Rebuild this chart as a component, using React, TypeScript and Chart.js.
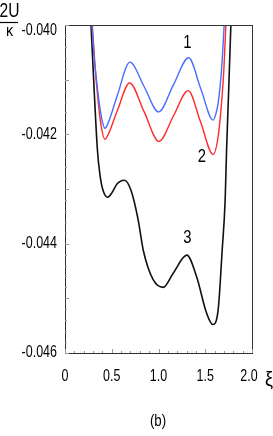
import React, { useEffect, useRef } from "react";
import { Chart, registerables } from "chart.js";

Chart.register(...registerables);

// Curve 1 (blue)
const xi1 = [0.278, 0.2885, 0.31, 0.345, 0.374, 0.4, 0.427, 0.46, 0.561, 0.694, 0.847, 1.001, 1.161, 1.322, 1.453, 1.584, 1.613, 1.638, 1.674, 1.702, 1.709];
const u1 = [-0.03973, -0.04, -0.04055, -0.04113, -0.04152, -0.04177, -0.04189, -0.0418, -0.04128, -0.04068, -0.04113, -0.04159, -0.04109, -0.0406, -0.04117, -0.04174, -0.04163, -0.04143, -0.04082, -0.04, -0.03973];

// Curve 2 (red)
const xi2 = [0.283, 0.292, 0.32, 0.353, 0.385, 0.427, 0.46, 0.559, 0.691, 0.847, 1.004, 1.161, 1.317, 1.451, 1.584, 1.638, 1.674, 1.699, 1.72, 1.727];
const u2 = [-0.03973, -0.04, -0.04073, -0.04137, -0.04183, -0.04209, -0.04201, -0.04157, -0.04106, -0.04159, -0.04213, -0.04166, -0.0412, -0.04178, -0.04237, -0.04204, -0.04143, -0.04082, -0.04, -0.03973];

// Curve 3 (black)
const xi3 = [0.267, 0.278, 0.31, 0.347, 0.374, 0.406, 0.456, 0.502, 0.556, 0.634, 0.705, 0.783, 0.837, 0.943, 1.05, 1.157, 1.303, 1.407, 1.514, 1.581, 1.638, 1.681, 1.713, 1.728, 1.752, 1.774, 1.781];
const u3 = [-0.03973, -0.04, -0.04113, -0.04229, -0.04274, -0.04302, -0.04315, -0.04307, -0.04291, -0.04284, -0.04302, -0.04357, -0.04412, -0.04466, -0.0448, -0.04454, -0.04421, -0.0446, -0.04527, -0.04548, -0.04521, -0.04412, -0.0432, -0.04229, -0.04113, -0.04, -0.03973];

const yTickValues = [-0.04, -0.042, -0.044, -0.046];
const yTickLabels = ["-0.040", "-0.042", "-0.044", "-0.046"];
const xTickValues = [0, 0.5, 1.0, 1.5, 2.0];
const xTickLabels = ["0", "0.5", "1.0", "1.5", "2.0"];

const curveLabels = ["1", "2", "3"];
const curveLabelXi = [1.308, 1.464, 1.308];
const curveLabelU = [-0.04033, -0.04241, -0.0439];

const FONT = '"Liberation Sans", Arial, sans-serif';

function narrowText(ctx: any, text: string, x: number, y: number, size: number, align: string, sx = 0.78) {
  ctx.save();
  ctx.font = size + "px " + FONT;
  ctx.textAlign = align;
  ctx.textBaseline = "middle";
  ctx.translate(x, y);
  ctx.scale(sx, 1);
  ctx.fillText(text, 0, 0);
  ctx.restore();
}

const decorPlugin = {
  id: "decor",
  afterDraw(chart: any) {
    const { ctx, chartArea } = chart;
    const xs = chart.scales.x;
    const ys = chart.scales.y;
    const { left, right, top, bottom } = chartArea;
    ctx.save();
    // frame
    ctx.strokeStyle = "#333";
    ctx.lineWidth = 1;
    ctx.strokeRect(Math.round(left) + 0.5, Math.round(top) + 0.5, Math.round(right - left), Math.round(bottom - top));
    // y ticks
    ctx.strokeStyle = "#999";
    for (let i = 0; i <= 30; i++) {
      const v = -0.046 + i * 0.0002;
      const y = Math.round(ys.getPixelForValue(v)) + 0.5;
      const len = i % 5 === 0 ? 4 : 2;
      ctx.beginPath();
      ctx.moveTo(left, y);
      ctx.lineTo(left + len, y);
      ctx.stroke();
    }
    // x ticks
    for (let i = 0; i <= 20; i++) {
      const x = Math.round(xs.getPixelForValue(i * 0.1)) + 0.5;
      const len = i % 5 === 0 ? 4 : 2;
      ctx.beginPath();
      ctx.moveTo(x, bottom);
      ctx.lineTo(x, bottom - len);
      ctx.stroke();
    }
    ctx.restore();

    ctx.save();
    ctx.fillStyle = "#000";
    // y labels
    yTickValues.forEach((v, i) => {
      let y = ys.getPixelForValue(v);
      if (y < top + 6) y = top + 6;
      narrowText(ctx, yTickLabels[i], left - 8, y, 16, "right");
    });
    // x labels
    xTickValues.forEach((v, i) => {
      let x = xs.getPixelForValue(v);
      if (i === xTickValues.length - 1) x -= 3;
      narrowText(ctx, xTickLabels[i], x, bottom + 24, 16, "center");
    });
    // xi axis label
    narrowText(ctx, "ξ", right + 17, bottom + 27, 20, "center", 0.9);
    // (b)
    narrowText(ctx, "(b)", (left + right) / 2 - 0.5, bottom + 68, 17, "center");
    // y title: 2U over kappa
    narrowText(ctx, "2U", 9.5, 11.5, 20, "center");
    ctx.strokeStyle = "#000";
    ctx.lineWidth = 1.2;
    ctx.beginPath();
    ctx.moveTo(0, 22.5);
    ctx.lineTo(18, 22.5);
    ctx.stroke();
    narrowText(ctx, "κ", 9.5, 32, 16, "center", 0.9);
    // curve labels
    curveLabels.forEach((t, i) => {
      narrowText(ctx, t, xs.getPixelForValue(curveLabelXi[i]), ys.getPixelForValue(curveLabelU[i]), 19, "center");
    });
    ctx.restore();
  },
};

export default function App() {
  const ref = useRef<HTMLCanvasElement | null>(null);
  useEffect(() => {
    if (!ref.current) return;
    const mk = (xi: number[], u: number[]) => xi.map((x, i) => ({ x, y: u[i] }));
    const chart = new Chart(ref.current, {
      type: "line",
      data: {
        datasets: [
          { data: mk(xi1, u1), borderColor: "#4a6cff", borderWidth: 1.4, pointRadius: 0, cubicInterpolationMode: "monotone", fill: false },
          { data: mk(xi2, u2), borderColor: "#ff2a2a", borderWidth: 1.4, pointRadius: 0, cubicInterpolationMode: "monotone", fill: false },
          { data: mk(xi3, u3), borderColor: "#111111", borderWidth: 1.6, pointRadius: 0, cubicInterpolationMode: "monotone", fill: false },
        ],
      },
      options: {
        animation: false,
        responsive: false,
        devicePixelRatio: 1,
        layout: { padding: { left: 65, right: 21, top: 25, bottom: 83 } },
        plugins: { legend: { display: false }, tooltip: { enabled: false } },
        events: [],
        scales: {
          x: { type: "linear", min: 0, max: 2, display: false },
          y: { type: "linear", min: -0.046, max: -0.04, display: false },
        },
      },
      plugins: [decorPlugin],
    });
    return () => chart.destroy();
  }, []);
  return (
    <canvas
      ref={ref}
      width={273}
      height={436}
      style={{ display: "block", position: "absolute", left: 0, top: 0 }}
    />
  );
}
